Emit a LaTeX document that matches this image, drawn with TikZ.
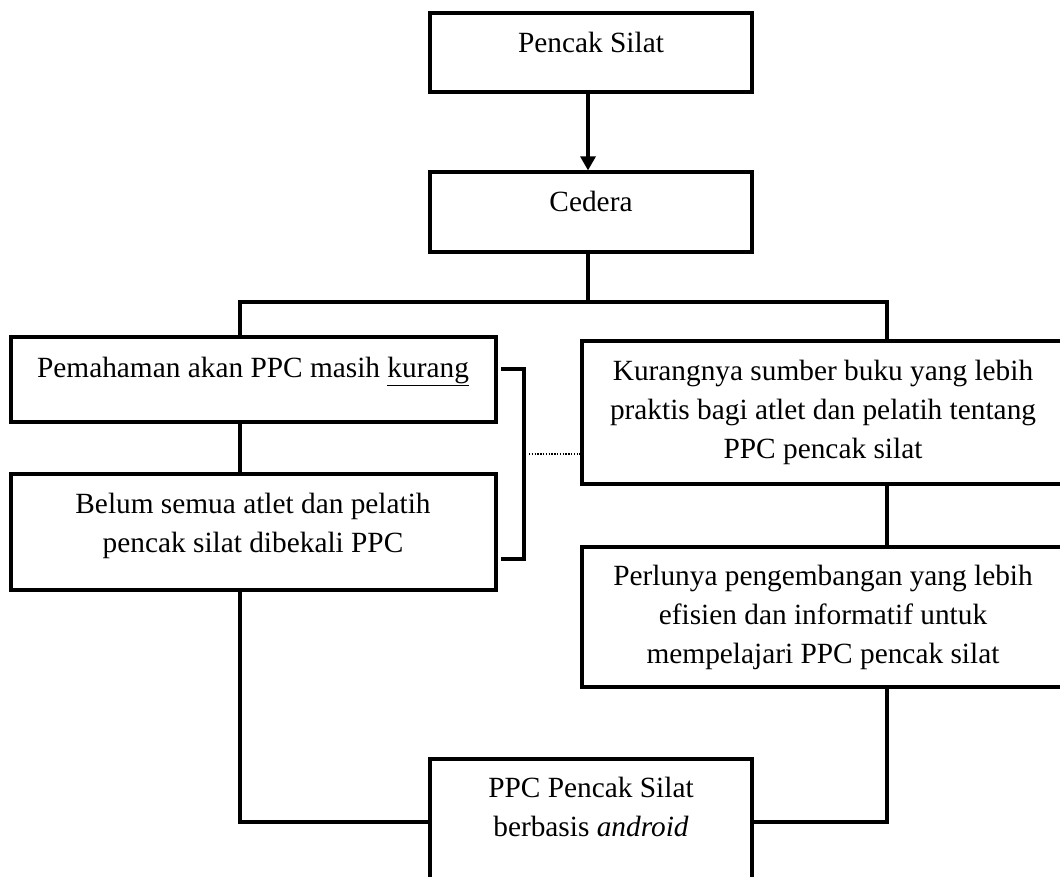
\documentclass[tikz,border=0pt]{standalone}
\usepackage{fontspec}
\setmainfont{Liberation Serif}
\usetikzlibrary{fit,arrows.meta}
\begin{document}
\begin{tikzpicture}[x=0.75pt,y=-0.75pt,
  box/.style={draw=black,line width=2.4pt,inner sep=0pt,rectangle},
  txt/.style={inner sep=0pt,anchor=base,font=\fontsize{22}{29}\selectfont},
  conn/.style={draw=black,line width=2.3pt},
  dotline/.style={draw=black,line width=1.4pt,dash pattern=on 1pt off 1.1pt}]
\useasboundingbox (0,0) rectangle (1060,876);
\clip (0,0) rectangle (1060,876);
% boxes
\node[box,fit={(430,13) (752,92)}] (A) {};
\node[box,fit={(430,172) (752,252)}] (B) {};
\node[box,fit={(11,337) (496,422)}] (L1) {};
\node[box,fit={(11,474) (496,590)}] (L2) {};
\node[box,fit={(582,341) (1064,484)}] (R1) {};
\node[box,fit={(582,547) (1064,687)}] (R2) {};
\node[box,fit={(430,759) (752,940)}] (P) {};
% texts
\node[txt] (tA) at (591,52) {Pencak Silat};
\node[txt] (tB) at (591,211) {Cedera};
\node[txt] (tL1) at (253,377) {Pemahaman akan PPC masih \underline{kurang}};
\node[txt] (tL2a) at (253,513) {Belum semua atlet dan pelatih};
\node[txt] (tL2b) at (253,552) {pencak silat dibekali PPC};
\node[txt] (tR1a) at (823,380) {Kurangnya sumber buku yang lebih};
\node[txt] (tR1b) at (823,419) {praktis bagi atlet dan pelatih tentang};
\node[txt] (tR1c) at (823,458) {PPC pencak silat};
\node[txt] (tR2a) at (823,585) {Perlunya pengembangan yang lebih};
\node[txt] (tR2b) at (823,624) {efisien dan informatif untuk};
\node[txt] (tR2c) at (823,663) {mempelajari PPC pencak silat};
\node[txt] (tPa) at (591,797) {PPC Pencak Silat};
\node[txt] (tPb) at (591,836) {berbasis \textit{android}};
% junction coordinates
\coordinate (jl) at (240,302);
\coordinate (jr) at (887,302);
\coordinate (cl) at (240,822);
\coordinate (cr) at (887,822);
\coordinate (brt) at (501,369);
\coordinate (brb) at (501,559);
\coordinate (dl) at (529,454);
% connectors
\draw[conn,-{Triangle[length=14pt*0.75,width=15pt*0.75]}] (A.south -| 588,0) -- (B.north -| 588,0);
\draw[conn] (B.south -| 588,0) -- (588,302);
\draw[conn,line cap=rect] (jl) -- (jr);
\draw[conn] (jl) -- (jl |- L1.north);
\draw[conn] (jr) -- (jr |- R1.north);
\draw[conn] (jl |- L1.south) -- (jl |- L2.north);
\draw[conn] (jr |- R1.south) -- (jr |- R2.north);
\draw[conn] (jl |- L2.south) -- (cl) -- (P.west |- cl);
\draw[conn] (jr |- R2.south) -- (cr) -- (P.east |- cr);
\draw[conn] (brt) -- (524,369) -- (524,559) -- (brb);
\draw[dotline] (dl) -- (R1.west |- dl);
\end{tikzpicture}
\end{document}
